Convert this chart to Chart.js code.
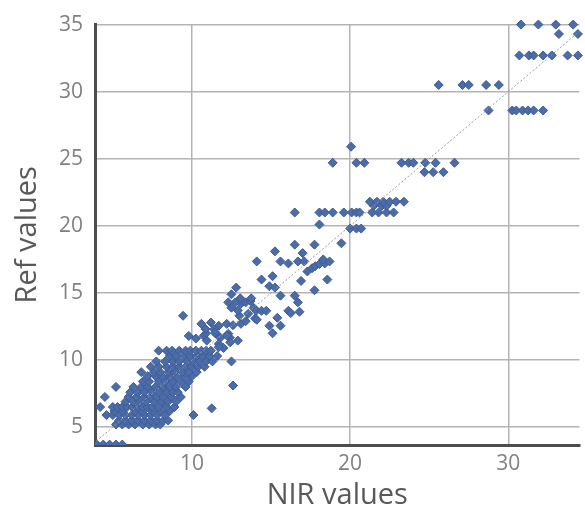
<!DOCTYPE html>
<html>
<head>
<meta charset="utf-8">
<script src="https://cdn.jsdelivr.net/npm/chart.js@4/dist/chart.umd.min.js"></script>
<style>
  html, body { margin: 0; padding: 0; background: #ffffff; }
  canvas { display: block; }
</style>
</head>
<body>
<canvas id="chart" width="585" height="513"></canvas>
<script>
// NIR prediction vs. reference measurement, one entry per sample
const nirValues = [
  // reference level 3.7
  4.0, 4.4, 4.8, 5.2, 5.6,
  // 5.2
  5.2, 5.6, 6.0, 6.4, 6.9, 7.3, 7.7, 8.0,
  // 5.5
  5.4, 5.8, 6.2, 6.6, 7.0, 7.4, 7.8, 8.2, 8.5,
  // 5.9
  4.6, 5.0, 5.4, 5.8, 6.2, 6.6, 7.0, 7.4, 7.8, 8.3, 10.1,
  // 6.2
  5.1, 5.6, 6.4, 6.9, 7.5, 8.0, 8.6,
  // 6.5
  4.2, 5.0, 5.3, 5.6, 5.9, 6.25, 6.6, 6.9, 7.2, 7.5, 7.9, 8.4, 8.9, 11.25,
  // 6.9
  5.8, 6.3, 6.7, 7.1, 7.6, 8.1, 8.5, 9.0,
  // 7.25
  4.5, 6.0, 6.5, 7.0, 7.4, 7.8, 8.2, 8.7, 9.3,
  // 7.6
  6.1, 6.6, 7.0, 7.5, 7.9, 8.4, 8.8, 9.1,
  // 8.0
  5.2, 6.3, 6.8, 7.2, 7.7, 8.2, 8.6, 9.0, 9.6, 12.6,
  // 8.4
  6.9, 7.3, 7.9, 8.3, 8.8, 9.3, 9.8,
  // 8.8
  7.2, 7.7, 8.1, 8.6, 9.0, 9.5, 10.0,
  // 9.1
  6.8, 7.6, 8.0, 8.5, 8.9, 9.4, 9.8, 10.3,
  // 9.5
  7.4, 7.9, 8.4, 8.8, 9.2, 9.6, 10.0, 10.4, 10.8,
  // 9.9
  7.75, 8.3, 8.8, 9.2, 9.7, 10.1, 10.5, 10.9, 11.3, 12.5,
  // 10.3
  8.6, 9.0, 9.5, 9.9, 10.3, 10.7, 11.1, 11.6,
  // 10.7
  7.9, 8.4, 8.75, 9.2, 9.6, 9.9, 10.25, 10.6, 10.9, 11.2,
  // 11 - 13.3
  9.8, 10.25, 10.75, 10.94, 11.5, 11.8, 12.3, 12.4, 12.9, 11.7, 12.0,
  10.6, 11.2, 11.7, 11.4, 10.9, 10.86, 11.48, 12.21, 12.42, 11.69, 9.44,
  // 12 - 16.3
  12.2, 12.6, 13.1, 13.0, 13.4, 13.56, 14.0, 13.9, 13.1, 12.75,
  12.8, 12.5, 12.3, 12.5, 13.06, 13.4, 13.7, 13.75, 12.9, 14.06,
  14.4, 14.7, 14.1, 14.9, 15.1, 15.4, 15.6, 14.4, 15.1, 14.9,
  15.25, 16.9, 17.75, 15.6, 16.5, 16.7, 16.8, 16.1, 16.25,
  // 16 - 26
  14.1, 15.25, 15.6, 16.1, 16.7, 17.0, 17.1, 17.3, 17.6, 17.8,
  18.06, 18.4, 18.7, 18.3, 18.56, 16.5, 17.75, 19.45, 18.06, 20.0,
  20.4, 20.7, 20.06,
  // 21.0
  16.5, 18.06, 18.4, 18.9, 19.6, 20.1, 20.4, 20.6, 21.4, 21.8, 22.3, 22.75,
  // 21.5
  21.5, 22.0, 22.3,
  // 21.8
  21.25, 21.7, 22.1, 22.5, 22.9, 23.4,
  // 24.0
  24.7, 25.25, 25.9,
  // 24.7
  18.9, 20.4, 20.9, 23.25, 23.7, 24.0, 24.75, 25.4, 26.6,
  // 28.6
  28.75, 30.25, 30.5, 30.9, 31.25, 31.6, 32.2,
  // 30.5
  25.6, 27.1, 27.5, 28.6, 29.4,
  // 32.7
  30.7, 31.3, 31.6, 32.2, 32.75, 33.75, 34.4,
  // 34.3
  33.2, 34.4,
  // 35
  30.8, 31.9, 33.0, 34.1
];

const refValues = [
  3.7, 3.7, 3.7, 3.7, 3.7,
  5.2, 5.2, 5.2, 5.2, 5.2, 5.2, 5.2, 5.2,
  5.5, 5.5, 5.5, 5.5, 5.5, 5.5, 5.5, 5.5, 5.5,
  5.9, 5.9, 5.9, 5.9, 5.9, 5.9, 5.9, 5.9, 5.9, 5.9, 5.9,
  6.2, 6.2, 6.2, 6.2, 6.2, 6.2, 6.2,
  6.5, 6.5, 6.5, 6.5, 6.5, 6.5, 6.5, 6.5, 6.5, 6.5, 6.5, 6.5, 6.5, 6.4,
  6.9, 6.9, 6.9, 6.9, 6.9, 6.9, 6.9, 6.9,
  7.25, 7.25, 7.25, 7.25, 7.25, 7.25, 7.25, 7.25, 7.25,
  7.6, 7.6, 7.6, 7.6, 7.6, 7.6, 7.6, 7.6,
  8.0, 8.0, 8.0, 8.0, 8.0, 8.0, 8.0, 8.0, 8.0, 8.1,
  8.4, 8.4, 8.4, 8.4, 8.4, 8.4, 8.4,
  8.8, 8.8, 8.8, 8.8, 8.8, 8.8, 8.8,
  9.1, 9.1, 9.1, 9.1, 9.1, 9.1, 9.1, 9.1,
  9.5, 9.5, 9.5, 9.5, 9.5, 9.5, 9.5, 9.5, 9.5,
  9.9, 9.9, 9.9, 9.9, 9.9, 9.9, 9.9, 9.9, 9.9, 9.9,
  10.3, 10.3, 10.3, 10.3, 10.3, 10.3, 10.3, 10.3,
  10.7, 10.7, 10.7, 10.7, 10.7, 10.7, 10.7, 10.7, 10.7, 10.7,
  11.8, 11.6, 11.8, 11.45, 11.97, 11.67, 11.97, 11.67, 11.45, 11.2, 10.9,
  12.7, 12.8, 12.56, 12.3, 12.0, 12.31, 12.06, 11.82, 11.32, 10.95, 13.3,
  12.7, 12.6, 12.7, 13.3, 12.9, 13.45, 13.1, 13.9, 14.2, 14.3,
  15.4, 14.9, 14.3, 13.9, 14.6, 14.3, 14.4, 14.6, 13.7, 13.67,
  13.67, 13.67, 13.0, 12.56, 12.0, 13.15, 12.56, 16.0, 16.25, 15.5,
  15.4, 15.9, 15.2, 14.8, 14.8, 14.3, 13.6, 13.67, 13.5,
  17.35, 18.1, 17.35, 17.2, 17.35, 17.97, 17.35, 16.6, 16.85, 17.0,
  17.15, 17.2, 17.35, 17.5, 16.0, 18.6, 18.6, 18.7, 20.1, 19.8,
  19.8, 19.8, 25.9,
  21.0, 21.0, 21.0, 21.0, 21.0, 21.0, 21.0, 21.0, 21.0, 21.0, 21.0, 21.0,
  21.5, 21.5, 21.5,
  21.8, 21.8, 21.8, 21.8, 21.8, 21.8,
  24.0, 24.0, 24.0,
  24.7, 24.7, 24.7, 24.7, 24.7, 24.7, 24.7, 24.7, 24.7,
  28.6, 28.6, 28.6, 28.6, 28.6, 28.6, 28.6,
  30.5, 30.5, 30.5, 30.5, 30.5,
  32.7, 32.7, 32.7, 32.7, 32.7, 32.7, 32.7,
  34.3, 34.3,
  35.0, 35.0, 35.0, 35.0
];

// Tick marks and the y = x reference line
const xTicks = [10, 20, 30];
const yTicks = [5, 10, 15, 20, 25, 30, 35];
const identityLine = [3, 36];

const samples = nirValues.map((x, i) => ({ x: x, y: refValues[i] }));
const diagonal = identityLine.map(v => ({ x: v, y: v }));

const tickFont = { family: "'Open Sans', sans-serif", size: 21 };
const titleFont = { family: "'Open Sans', sans-serif", size: 29 };
const gridStyle = { color: '#b4b4b4', lineWidth: 1.5, drawTicks: false };

new Chart(document.getElementById('chart'), {
  type: 'scatter',
  data: {
    datasets: [
      {
        type: 'line',
        data: diagonal,
        borderColor: '#9a9a9a',
        borderWidth: 1,
        borderDash: [2, 2],
        pointRadius: 0,
        order: 0
      },
      {
        data: samples,
        pointStyle: 'rectRot',
        radius: 4.5,
        backgroundColor: '#4b6ca8',
        borderColor: '#3d5b96',
        borderWidth: 1,
        order: 1,
        clip: { left: 0, top: false, right: false, bottom: 0 }
      }
    ]
  },
  options: {
    responsive: false,
    animation: false,
    devicePixelRatio: 1,
    layout: { padding: { top: 22, right: 0, bottom: 0, left: 0 } },
    plugins: { legend: { display: false }, tooltip: { enabled: false } },
    scales: {
      x: {
        type: 'linear',
        min: 3.875,
        max: 34.5,
        afterBuildTicks: s => { s.ticks = xTicks.map(v => ({ value: v })); },
        afterFit: s => { s.height = 68; },
        grid: gridStyle,
        border: { color: '#4d4d4d', width: 3 },
        ticks: { font: tickFont, color: '#808080', padding: 6, maxRotation: 0 },
        title: {
          display: true, text: 'NIR values', font: titleFont, color: '#595959',
          padding: { top: 0, bottom: 0 }
        }
      },
      y: {
        type: 'linear',
        min: 3.67,
        max: 35,
        afterBuildTicks: s => { s.ticks = yTicks.map(v => ({ value: v })); },
        afterFit: s => { s.width = 95; },
        grid: gridStyle,
        border: { color: '#4d4d4d', width: 3 },
        ticks: { font: tickFont, color: '#808080', padding: 12 },
        title: {
          display: true, text: 'Ref values', font: titleFont, color: '#595959',
          padding: { top: 10, bottom: 0 }
        }
      }
    }
  }
});
</script>
</body>
</html>
